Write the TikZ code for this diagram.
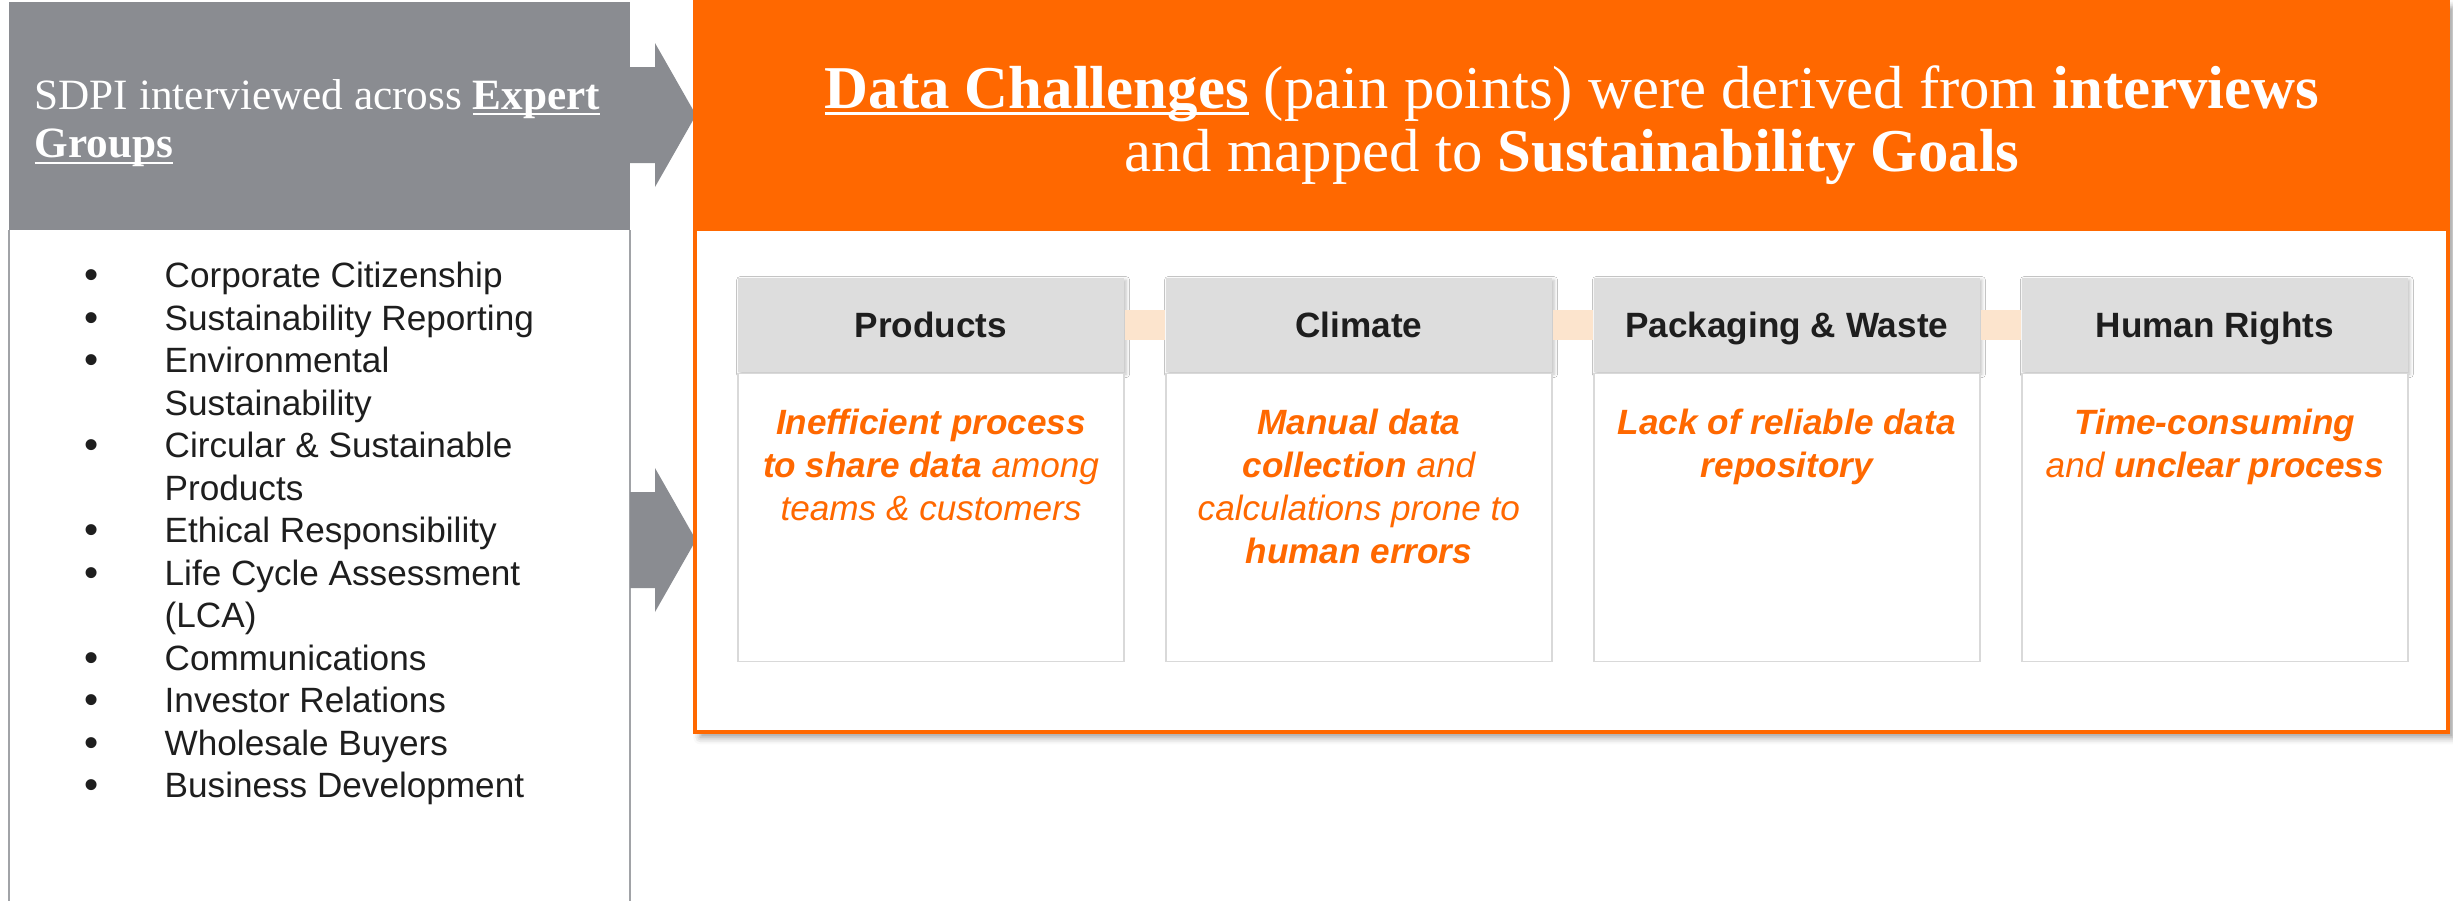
\documentclass[tikz,border=0pt]{standalone}
\usepackage{fontspec}
\setmainfont{Liberation Serif}
\setsansfont{Liberation Sans}
\usetikzlibrary{positioning,shadows.blur}

\definecolor{gris}{RGB}{138,140,145}
\definecolor{naranja}{RGB}{255,104,0}
\definecolor{grisclaro}{RGB}{221,221,221}
\definecolor{borde}{RGB}{217,217,217}
\definecolor{durazno}{RGB}{252,228,205}
\definecolor{texto}{RGB}{30,30,30}

% Subrayado a profundidad fija
\newcommand{\subrayado}[1]{\setbox0\hbox{#1}\rlap{\rule[-1.8pt]{\wd0}{0.7pt}}\box0}
% Viñeta
\newcommand{\vineta}{\raisebox{-0.3pt}{\fontsize{11.5}{12}\selectfont\textbullet}}

\tikzset{
  cabeza/.style={fill=grisclaro, minimum width=3.86cm, minimum height=0.94cm, inner sep=0pt,
    text height=7.2pt, text depth=0pt,
    font=\sffamily\bfseries\fontsize{10}{12}\selectfont, text=texto,
    blur shadow={shadow xshift=0.6pt, shadow yshift=-0.6pt, shadow blur radius=1pt, shadow opacity=25}},
  cuerpo/.style={draw=borde, line width=0.5pt, fill=white, minimum width=3.86cm, minimum height=2.88cm, inner sep=0pt},
  reto/.style={align=center, inner sep=0pt, text=naranja,
    font=\sffamily\itshape\fontsize{10}{12.2}\selectfont},
  flecha/.style={fill=gris}
}

\begin{document}
\begin{tikzpicture}
\useasboundingbox (0,0) rectangle (24.53,-9);

% Definir coordenadas
\coordinate (A) at (0.09,-0.02);
\coordinate (B) at (6.30,-2.30);
\coordinate (C) at (0.09,-9.10);
\coordinate (D) at (6.95,-0.02);
\coordinate (E) at (24.48,-2.31);
\coordinate (F) at (24.48,-7.32);

% Panel izquierdo
\fill[white] (A |- B) rectangle (B |- C);
\draw[gris!80, line width=0.6pt] (C) -- (A |- B);
\draw[gris!80, line width=0.6pt] (B) -- (B |- C);
\fill[gris] (A) rectangle (B);

% Flechas
\fill[flecha] (6.30,-0.67) -- ++(0.25,0) -- ++(0,0.24) -- ++(0.41,-0.72) -- ++(-0.41,-0.72) -- ++(0,0.24) -- ++(-0.25,0) -- cycle;
\fill[flecha] (6.30,-4.92) -- ++(0.25,0) -- ++(0,0.24) -- ++(0.41,-0.72) -- ++(-0.41,-0.72) -- ++(0,0.24) -- ++(-0.25,0) -- cycle;

% Panel naranja
\fill[white, blur shadow={shadow xshift=1.5pt, shadow yshift=-1.5pt, shadow blur radius=2pt, shadow opacity=40}] (D) rectangle (F);
\draw[naranja, line width=0.9pt] (D) rectangle (F);
\fill[naranja] (D) rectangle (E);

% Titulos
\node[text=white, align=left, anchor=west, inner sep=0pt, font=\fontsize{12.3}{13.8}\selectfont] (sdpi) at (0.34,-1.23)
  {SDPI interviewed across \textbf{\subrayado{Expert}}\\\textbf{\subrayado{Groups}}};
\node[text=white, align=center, inner sep=0pt, font=\fontsize{17.3}{17.8}\selectfont] (titulo) at (15.72,-1.25)
  {\textbf{\subrayado{Data Challenges}} (pain points) were derived from \textbf{interviews}\\and mapped to \textbf{Sustainability Goals}};

% Lista de grupos
\node[anchor=north west, inner sep=0pt, text=texto, font=\sffamily\fontsize{10}{12.1}\selectfont] (lista) at (0.84,-2.57) {%
\begin{tabular}{@{}p{0.80cm}@{}l@{}}
\vineta & Corporate Citizenship\\
\vineta & Sustainability Reporting\\
\vineta & Environmental\\
 & Sustainability\\
\vineta & Circular \& Sustainable\\
 & Products\\
\vineta & Ethical Responsibility\\
\vineta & Life Cycle Assessment\\
 & (LCA)\\
\vineta & Communications\\
\vineta & Investor Relations\\
\vineta & Wholesale Buyers\\
\vineta & Business Development
\end{tabular}};

% Tarjetas
\node[cabeza] (h1) at (9.31,-3.25) {Products};
\node[cabeza, right=0.405cm of h1] (h2) {Climate};
\node[cabeza, right=0.405cm of h2] (h3) {Packaging \& Waste};
\node[cabeza, right=0.405cm of h3] (h4) {Human Rights};
\node[cuerpo, below=0pt of h1] (b1) {};
\node[cuerpo, below=0pt of h2] (b2) {};
\node[cuerpo, below=0pt of h3] (b3) {};
\node[cuerpo, below=0pt of h4] (b4) {};

% Barras entre tarjetas
\fill[durazno] ([yshift=0.15cm]h1.east) rectangle ([yshift=-0.15cm]h2.west);
\fill[durazno] ([yshift=0.15cm]h2.east) rectangle ([yshift=-0.15cm]h3.west);
\fill[durazno] ([yshift=0.15cm]h3.east) rectangle ([yshift=-0.15cm]h4.west);

% Textos de las tarjetas
\node[reto, below=0.36cm of b1.north] (t1) {\textbf{Inefficient process}\\\textbf{to share data} among\\teams \& customers};
\node[reto, below=0.36cm of b2.north] (t2) {\textbf{Manual data}\\\textbf{collection} and\\calculations prone to\\\textbf{human errors}};
\node[reto, below=0.36cm of b3.north] (t3) {\textbf{Lack of reliable data}\\\textbf{repository}};
\node[reto, below=0.36cm of b4.north] (t4) {\textbf{Time-consuming}\\and \textbf{unclear process}};
\end{tikzpicture}
\end{document}
